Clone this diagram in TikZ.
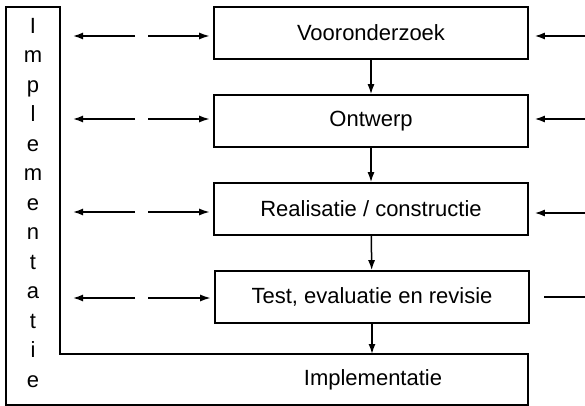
\documentclass[tikz,border=0pt]{standalone}
\usepackage{fontspec}
\setmainfont{Liberation Sans}
\usetikzlibrary{arrows.meta}
\begin{document}
\begin{tikzpicture}[x=1pt,y=-1pt,
  line width=1.5pt,
  font=\fontsize{22}{26}\selectfont,
  phase/.style={draw,line width=1.6pt,minimum width=314pt,minimum height=52pt,inner sep=0pt},
  letter/.style={inner sep=0pt,anchor=center},
  flow/.style={-{Latex[length=10pt,width=7pt]}},
  feed/.style={-{Latex[length=11pt,width=7pt]}},
  back/.style={-{Latex[length=10pt,width=7pt]}}]
\useasboundingbox (0,0) rectangle (585,406);
% L-shaped implementation frame
\draw[line width=1.6pt] (6,7) -- (60,7) -- (60,354) -- (528,354) -- (528,405) -- (6,405) -- cycle;
\node[letter] (impl) at (373,380) {Implementatie};
\coordinate (ie) at (372,354);
% vertical label
\foreach \c [count=\i] in {I,m,p,l,e,m,e,n,t,a,t,i,e}
  \node[letter] (v\i) at (33,{29.5*(\i-1)+28}) {\strut\c};
% phase boxes
\node[phase] (p1) at (371,33) {Vooronderzoek};
\node[phase] (p2) at (371,121) {Ontwerp};
\node[phase] (p3) at (371,209) {Realisatie / constructie};
\node[phase] (p4) at (372,297) {Test, evaluatie en revisie};
% main flow
\draw[flow] (p1) -- (p2);
\draw[flow] (p2) -- (p3);
\draw[flow] (p3) -- (p4);
\draw[flow] (p4.south) -- (ie);
% links to the implementation column
\foreach \k/\y in {1/36,2/119,3/212,4/298} {
  \coordinate (la\k) at (135,\y);
  \coordinate (lb\k) at (73,\y);
  \coordinate (lc\k) at (148,\y);
  \draw[back] (la\k) -- (lb\k);
  \draw[feed,line width=2pt,shorten >=3pt] (lc\k) -- (lc\k -| p\k.west);
}
% inputs from the right
\foreach \k/\y in {1/36,2/119,3/213} {
  \coordinate (r\k) at (585,\y);
  \draw[back,shorten >=6pt] (r\k) -- (r\k -| p\k.east);
}
\coordinate (r4) at (585,297);
\coordinate (r4b) at (544,297);
\draw (r4) -- (r4b);
\end{tikzpicture}
\end{document}
